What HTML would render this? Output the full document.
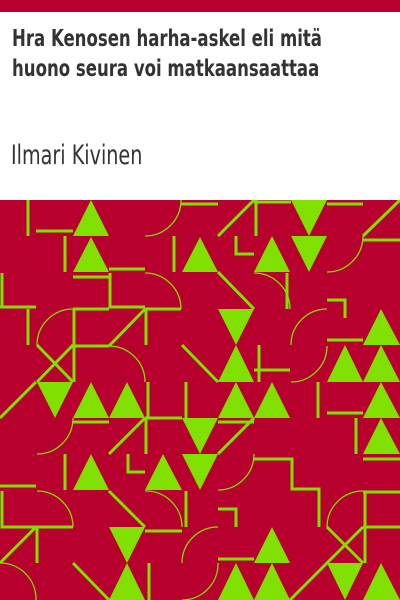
<!DOCTYPE html>
<html><head><meta charset="utf-8"><style>
html,body{margin:0;padding:0;width:400px;height:600px;overflow:hidden;background:#fff}
#bar{position:absolute;left:0;top:0;width:400px;height:12px;background:#b8002e}
#title{position:absolute;left:12px;top:24px;width:480px;font-family:"DejaVu Sans Condensed","DejaVu Sans","Liberation Sans",sans-serif;font-weight:bold;font-size:23px;line-height:30px;color:#333;transform:scaleX(0.8);transform-origin:0 0;white-space:nowrap}
#author{position:absolute;left:11px;top:138px;font-family:"DejaVu Sans","Liberation Sans",sans-serif;font-weight:normal;font-size:27px;line-height:36px;color:#333;transform:scaleX(0.71);transform-origin:0 0;white-space:nowrap}
svg{position:absolute;left:0;top:200px}
</style></head><body>
<div id="bar"></div>
<div id="title">Hra Kenosen harha-askel eli mitä<br>huono seura voi matkaansaattaa</div>
<div id="author">Ilmari Kivinen</div>
<svg width="400" height="400" viewBox="0 200 400 400">
<rect x="0" y="200" width="400" height="400" fill="#b8002e"/>
<g stroke="#80e000" stroke-width="3" fill="none">
<path d="M28 200V236M36 231H73M181 204H218M65 236V272M174 236V272M109 269H145M73 277H109M2 273V308M0 307H36M28 309V345M110 273V308M109 307H145M145 309H181M74 309V382M73 309H109M73 346H109M146 310V345M145 309L109 346M37 345L73 382M73 345L37 382M182 345L218 382"/>
<path d="M218 236L254 200M256 200V236M254 202H291M327 204H363M363 236L400 200M363 240H400M236 236V254H254M218 272L254 309M287 273V309M327 300H345V318M254 370H290M259 345V382M327 340H363M318 382V418"/>
<path d="M0 418L36 382M148 382V418M186 382V418M73 422H109M145 418H182M145 418L109 454M146 418V454M65 454V490M128 454V472H145M0 486H36M2 491V527H73M109 491L145 527M186 491V527M145 531H182M36 527L0 563M37 527V563M73 563L109 600M149 563V600"/>
<path d="M327 413H363M218 422H254M254 418L218 454M356 418V454M363 459H400M254 459H292V489H319V527M365 491V563M363 492H400M363 527H400M218 509H236V527M327 527L363 563M363 527L327 563M218 559H254M290 600L327 563"/>
</g>
<g stroke="#80e000" stroke-width="1.3" fill="none">
<path d="M145 236A36 36 0 0 0 181 200M145 273A36 36 0 0 1 181 309M73 309A36 36 0 0 0 37 345M109 346A36 36 0 0 1 145 382"/>
<path d="M327 272A36 36 0 0 0 363 236M254 273A36 36 0 0 1 290 309M327 309A36 36 0 0 0 291 345M327 346A36 36 0 0 1 291 382"/>
<path d="M73 418A36 36 0 0 1 37 454M37 491A36 36 0 0 1 73 527M145 491A36 36 0 0 1 182 527M182 563A36 36 0 0 1 218 527M0 563A36 36 0 0 1 36 600"/>
<path d="M254 454A36 36 0 0 1 218 490M363 491A36 36 0 0 0 327 527M218 563A36 36 0 0 1 182 600"/>
</g>
<g fill="#80e000">
<path d="M73 236L91 200L109 236ZM73 272L91 237L109 272ZM182 272L200 237L218 272Z"/>
<path d="M291 200H327L309 236ZM254 272L272 236L290 272ZM291 236H327L309 272ZM218 309H254L236 345ZM363 345L381 309L400 345ZM218 382L236 345L254 382ZM327 382L345 345L363 382ZM363 382L381 345L400 382Z"/>
<path d="M37 382H73L55 418ZM73 418L91 382L109 418ZM109 418L127 382L145 418ZM182 418H218L200 454ZM73 490L91 454L109 490ZM145 490L163 454L182 490ZM182 454H218L200 490ZM109 527H145L127 563ZM109 600L127 563L145 600Z"/>
<path d="M218 418L236 382L254 418ZM254 418L272 382L290 418ZM363 418L381 382L400 418ZM363 454L381 418L400 454ZM254 563L272 527L290 563ZM218 600L236 563L254 600ZM254 600L272 563L290 600ZM327 563H363L345 600ZM363 600L381 563L400 600Z"/>
</g>
</svg>
</body></html>
